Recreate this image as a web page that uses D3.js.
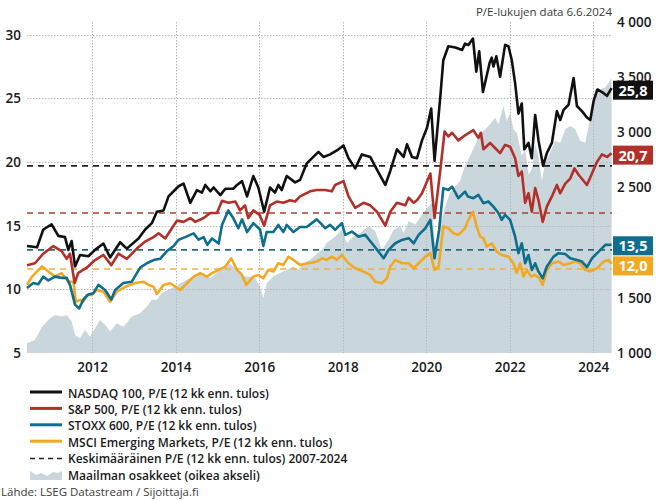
<!DOCTYPE html>
<html>
<head>
<meta charset="utf-8">
<script src="https://cdn.jsdelivr.net/npm/d3@7"></script>
<style>
  html, body { margin: 0; padding: 0; background: #fff; }
  svg { display: block; }
  text { font-family: "Open Sans", "Noto Sans", sans-serif; }
</style>
</head>
<body>
<svg id="chart" width="658" height="500"></svg>
<script>
// ---------- DATA ----------
const nasdaq = [[2010.44,13.4],[2010.68,13.3],[2010.83,14.7],[2011.03,15.1],[2011.19,14.2],[2011.35,14.1],[2011.43,13.1],[2011.51,13.8],[2011.59,11.8],[2011.71,12.7],[2011.91,12.6],[2012.07,13.1],[2012.27,13.6],[2012.43,12.5],[2012.67,13.7],[2012.83,13.2],[2013.11,14.0],[2013.27,14.7],[2013.43,15.2],[2013.55,16.1],[2013.71,16.2],[2013.83,17.3],[2014.07,18.1],[2014.19,18.3],[2014.35,16.8],[2014.51,17.8],[2014.63,17.6],[2014.71,18.2],[2014.83,17.7],[2014.91,18.0],[2015.07,17.4],[2015.19,17.9],[2015.38,17.9],[2015.47,18.2],[2015.59,18.5],[2015.71,17.3],[2015.86,18.9],[2015.98,18.0],[2016.12,16.1],[2016.26,18.0],[2016.38,17.6],[2016.46,18.2],[2016.54,17.8],[2016.66,18.9],[2016.86,18.4],[2016.98,18.6],[2017.14,19.9],[2017.42,20.8],[2017.54,20.4],[2017.70,20.6],[2017.90,21.0],[2018.02,21.3],[2018.14,20.3],[2018.30,19.5],[2018.46,20.6],[2018.66,20.4],[2018.82,19.4],[2019.02,18.2],[2019.14,19.3],[2019.30,21.0],[2019.46,20.4],[2019.54,21.4],[2019.66,20.4],[2019.78,20.3],[2019.90,21.7],[2020.02,22.7],[2020.12,24.2],[2020.20,20.1],[2020.34,25.2],[2020.41,28.0],[2020.53,29.1],[2020.70,29.0],[2020.86,28.8],[2020.93,29.3],[2021.01,29.2],[2021.12,29.7],[2021.20,27.1],[2021.27,28.7],[2021.36,25.5],[2021.52,27.8],[2021.57,28.2],[2021.61,27.5],[2021.68,28.3],[2021.77,26.7],[2021.89,29.2],[2021.97,29.1],[2022.05,28.0],[2022.13,26.2],[2022.21,23.8],[2022.29,24.6],[2022.35,21.0],[2022.45,21.5],[2022.53,20.3],[2022.61,23.7],[2022.69,21.7],[2022.80,19.7],[2022.89,20.7],[2023.01,21.5],[2023.13,24.0],[2023.21,23.3],[2023.29,24.1],[2023.41,24.5],[2023.53,26.6],[2023.61,24.4],[2023.73,24.0],[2023.85,23.5],[2023.93,23.3],[2024.01,24.8],[2024.10,25.7],[2024.21,25.5],[2024.33,25.2],[2024.44,25.8]];

const sp500 = [[2010.44,11.9],[2010.63,12.05],[2010.83,12.8],[2011.07,13.4],[2011.27,13.0],[2011.39,12.4],[2011.47,12.8],[2011.58,10.5],[2011.67,11.3],[2011.87,11.7],[2012.07,12.3],[2012.27,12.7],[2012.46,11.9],[2012.63,12.8],[2012.83,12.4],[2013.07,13.2],[2013.27,13.75],[2013.47,14.1],[2013.59,14.4],[2013.75,14.0],[2013.91,14.8],[2014.03,15.4],[2014.19,15.3],[2014.35,15.6],[2014.47,15.3],[2014.67,15.6],[2014.83,16.0],[2014.99,16.0],[2015.11,16.95],[2015.26,16.8],[2015.43,16.9],[2015.54,16.2],[2015.66,16.6],[2015.74,15.6],[2015.86,16.2],[2016.01,15.85],[2016.12,15.0],[2016.26,16.6],[2016.42,16.9],[2016.58,16.8],[2016.74,17.0],[2016.86,16.9],[2016.98,17.3],[2017.22,17.7],[2017.38,17.8],[2017.58,17.8],[2017.74,17.7],[2017.82,18.2],[2018.02,18.5],[2018.14,17.3],[2018.30,16.4],[2018.50,16.8],[2018.66,16.6],[2018.82,16.1],[2019.02,15.0],[2019.14,16.1],[2019.30,16.8],[2019.50,16.6],[2019.58,17.2],[2019.70,16.8],[2019.78,17.0],[2019.90,17.55],[2020.10,19.1],[2020.20,15.6],[2020.34,19.4],[2020.44,22.4],[2020.53,22.0],[2020.62,22.3],[2020.77,21.7],[2020.93,22.1],[2021.13,22.5],[2021.25,21.9],[2021.31,22.3],[2021.37,21.0],[2021.53,21.5],[2021.65,21.1],[2021.77,20.7],[2021.89,21.35],[2022.01,21.2],[2022.13,20.3],[2022.21,18.9],[2022.29,19.25],[2022.37,16.8],[2022.45,17.55],[2022.53,16.1],[2022.61,17.95],[2022.69,17.0],[2022.79,15.3],[2022.89,16.5],[2023.01,17.3],[2023.13,18.2],[2023.21,17.55],[2023.33,18.3],[2023.45,18.7],[2023.55,19.5],[2023.65,19.0],[2023.85,18.2],[2023.97,19.1],[2024.09,20.0],[2024.21,20.6],[2024.33,20.4],[2024.44,20.7]];

const stoxx600 = [[2010.44,10.1],[2010.59,10.5],[2010.71,10.4],[2010.83,11.0],[2010.95,10.7],[2011.11,11.0],[2011.27,10.9],[2011.39,10.9],[2011.47,10.35],[2011.59,8.8],[2011.69,8.5],[2011.79,9.2],[2011.91,9.6],[2012.03,9.7],[2012.15,10.35],[2012.31,9.95],[2012.46,9.2],[2012.55,9.95],[2012.75,10.5],[2012.95,10.6],[2013.15,11.7],[2013.31,12.05],[2013.47,12.3],[2013.63,12.4],[2013.79,13.0],[2013.95,13.4],[2014.07,13.9],[2014.23,14.1],[2014.43,14.4],[2014.55,13.9],[2014.67,14.1],[2014.76,13.5],[2014.87,14.0],[2015.03,13.6],[2015.11,15.06],[2015.26,16.2],[2015.38,15.6],[2015.50,14.8],[2015.59,15.5],[2015.71,14.5],[2015.86,15.2],[2016.02,14.7],[2016.10,13.4],[2016.18,14.5],[2016.34,14.5],[2016.46,15.06],[2016.58,14.5],[2016.66,15.06],[2016.82,14.5],[2016.98,14.9],[2017.14,14.9],[2017.26,15.2],[2017.38,15.5],[2017.50,15.1],[2017.58,14.8],[2017.70,15.06],[2017.82,14.67],[2017.98,15.2],[2018.06,14.28],[2018.22,14.54],[2018.38,14.14],[2018.54,14.28],[2018.70,13.62],[2018.86,12.96],[2018.98,12.44],[2019.10,13.1],[2019.26,13.62],[2019.42,13.88],[2019.58,14.02],[2019.70,13.62],[2019.82,14.28],[2019.98,14.8],[2020.10,15.46],[2020.20,12.44],[2020.31,14.67],[2020.41,17.95],[2020.53,17.81],[2020.62,18.07],[2020.77,17.16],[2020.93,17.68],[2021.00,17.29],[2021.13,17.16],[2021.25,17.42],[2021.37,16.77],[2021.49,16.9],[2021.61,16.5],[2021.73,16.0],[2021.81,15.46],[2021.89,15.85],[2022.01,15.46],[2022.13,14.14],[2022.21,12.84],[2022.29,13.62],[2022.37,12.05],[2022.45,12.7],[2022.53,11.53],[2022.61,12.05],[2022.69,11.39],[2022.79,10.87],[2022.89,11.79],[2023.05,12.57],[2023.17,12.84],[2023.33,12.78],[2023.45,12.44],[2023.61,12.31],[2023.73,12.18],[2023.85,11.74],[2023.97,12.44],[2024.13,12.96],[2024.29,13.49],[2024.44,13.5]];

const msciEM = [[2010.44,10.35],[2010.56,11.0],[2010.80,11.8],[2010.95,11.4],[2011.11,11.0],[2011.27,11.27],[2011.43,10.6],[2011.55,10.6],[2011.61,9.03],[2011.71,9.17],[2011.79,9.03],[2011.87,9.56],[2011.99,9.56],[2012.11,9.95],[2012.27,9.82],[2012.43,9.03],[2012.59,9.82],[2012.79,10.2],[2013.03,10.5],[2013.23,10.6],[2013.35,10.35],[2013.47,10.2],[2013.55,9.64],[2013.71,10.35],[2013.87,10.48],[2014.11,9.95],[2014.27,10.48],[2014.43,11.0],[2014.59,11.27],[2014.75,11.0],[2014.87,11.27],[2015.03,11.53],[2015.19,11.79],[2015.33,12.44],[2015.47,11.53],[2015.59,11.13],[2015.69,10.35],[2015.86,11.0],[2015.98,11.13],[2016.10,10.87],[2016.22,11.53],[2016.34,11.39],[2016.46,12.05],[2016.58,11.92],[2016.70,12.57],[2016.82,12.31],[2016.98,11.92],[2017.18,12.05],[2017.38,12.18],[2017.50,12.44],[2017.62,12.31],[2017.74,12.57],[2017.86,12.31],[2017.98,12.7],[2018.14,12.05],[2018.30,11.66],[2018.50,11.39],[2018.66,11.13],[2018.78,10.6],[2018.94,10.48],[2019.06,10.87],[2019.14,11.79],[2019.26,12.31],[2019.42,12.05],[2019.58,12.05],[2019.70,11.66],[2019.82,12.05],[2019.98,12.57],[2020.10,12.84],[2020.20,11.53],[2020.30,11.79],[2020.41,14.93],[2020.53,14.8],[2020.65,14.41],[2020.77,14.28],[2020.93,14.8],[2020.99,15.32],[2021.12,16.1],[2021.21,14.93],[2021.29,14.14],[2021.37,14.02],[2021.45,13.36],[2021.57,13.62],[2021.69,12.96],[2021.81,12.7],[2021.97,12.57],[2022.09,12.05],[2022.17,11.27],[2022.25,12.05],[2022.33,11.0],[2022.41,11.53],[2022.51,11.0],[2022.61,11.13],[2022.71,10.87],[2022.79,10.35],[2022.89,11.53],[2023.01,12.05],[2023.17,12.18],[2023.29,11.92],[2023.45,12.05],[2023.57,12.18],[2023.69,12.05],[2023.81,11.53],[2023.93,11.39],[2024.09,11.66],[2024.25,12.18],[2024.37,12.31],[2024.44,12.0]];

const worldShares = [[2010.44,1088],[2010.63,1118],[2010.80,1239],[2010.95,1300],[2011.11,1345],[2011.27,1330],[2011.39,1345],[2011.51,1285],[2011.59,1164],[2011.71,1133],[2011.83,1209],[2011.95,1148],[2012.07,1224],[2012.19,1300],[2012.31,1255],[2012.43,1194],[2012.59,1270],[2012.75,1239],[2012.95,1330],[2013.15,1361],[2013.31,1421],[2013.43,1482],[2013.55,1482],[2013.67,1543],[2013.83,1573],[2014.07,1618],[2014.11,1633],[2014.35,1679],[2014.59,1724],[2014.83,1679],[2015.07,1755],[2015.26,1815],[2015.43,1770],[2015.59,1694],[2015.74,1694],[2015.90,1679],[2016.02,1603],[2016.10,1497],[2016.18,1633],[2016.34,1694],[2016.50,1724],[2016.66,1755],[2016.82,1785],[2016.94,1755],[2017.06,1815],[2017.22,1845],[2017.38,1900],[2017.54,1950],[2017.62,2000],[2017.82,2057],[2017.98,2118],[2018.10,1997],[2018.26,2057],[2018.42,2088],[2018.62,2148],[2018.78,2103],[2018.94,1936],[2019.10,2027],[2019.22,2118],[2019.38,2148],[2019.46,2088],[2019.58,2194],[2019.74,2164],[2019.90,2255],[2020.06,2330],[2020.14,2361],[2020.22,1936],[2020.34,2179],[2020.46,2330],[2020.57,2452],[2020.70,2512],[2020.81,2560],[2020.93,2694],[2021.05,2785],[2021.29,2980],[2021.53,3073],[2021.65,3133],[2021.73,3073],[2021.85,3239],[2021.93,3103],[2022.01,3179],[2022.09,3027],[2022.17,2997],[2022.29,2785],[2022.37,2845],[2022.45,2618],[2022.53,2664],[2022.61,2891],[2022.69,2785],[2022.77,2557],[2022.85,2724],[2022.97,2815],[2023.09,2921],[2023.21,2906],[2023.33,3027],[2023.45,3057],[2023.57,3027],[2023.69,2921],[2023.81,2906],[2023.93,3133],[2024.05,3315],[2024.17,3391],[2024.29,3406],[2024.44,3490]];

// long-run averages 2007-2024
const averageNames = ["NASDAQ 100", "S&P 500", "STOXX 600", "MSCI Emerging Markets"];
const averageValues = [19.7, 16.0, 13.1, 11.6];

const leftTicks = [5, 10, 15, 20, 25, 30];
const rightTicks = [1000, 1500, 2000, 2500, 3000, 3500, 4000];
const yearTicks = [2012, 2014, 2016, 2018, 2020, 2022, 2024];

const legendLabels = [
  "NASDAQ 100, P/E (12 kk enn. tulos)",
  "S&P 500, P/E (12 kk enn. tulos)",
  "STOXX 600, P/E (12 kk enn. tulos)",
  "MSCI Emerging Markets, P/E (12 kk enn. tulos)",
  "Keskimääräinen P/E (12 kk enn. tulos) 2007-2024",
  "Maailman osakkeet (oikea akseli)"
];
const titleText = "P/E-lukujen data 6.6.2024";
const sourceText = "Lähde: LSEG Datastream / Sijoittaja.fi";

// ---------- STYLE ----------
const colors = { nasdaq: "#111111", sp: "#b2302a", stoxx: "#0f6e8e", em: "#f2a922", area: "#c9d6dc" };
const avgColors = ["#222222", "#a8403a", "#2c6a7a", "#f0b23c"];
const seriesList = [
  { data: msciEM, color: colors.em },
  { data: stoxx600, color: colors.stoxx },
  { data: sp500, color: colors.sp },
  { data: nasdaq, color: colors.nasdaq }
];

const svg = d3.select("#chart");
const L = 27, R = 612, T = 22, B = 353;

const x = d3.scaleLinear().domain([2010.44, 2024.45]).range([L, R]);
const yL = d3.scaleLinear().domain([5, 31]).range([B, T]);
const yR = d3.scaleLinear().domain([1000, 4000]).range([B, T]);

// area (world shares, right axis)
svg.append("path")
  .datum(worldShares)
  .attr("fill", colors.area)
  .attr("d", d3.area().x(d => x(d[0])).y0(B).y1(d => yR(d[1])));

// gridlines
const grid = svg.append("g").attr("stroke", "#b8b8b8").attr("stroke-width", 1).attr("stroke-dasharray", "1.5,1.5");
grid.selectAll("line.v").data(yearTicks).join("line")
  .attr("x1", d => Math.round(x(d)) + 0.5).attr("x2", d => Math.round(x(d)) + 0.5)
  .attr("y1", T).attr("y2", B);
grid.selectAll("line.h").data(leftTicks.filter(d => d > 5)).join("line")
  .attr("x1", L).attr("x2", R)
  .attr("y1", d => Math.round(yL(d)) + 0.5).attr("y2", d => Math.round(yL(d)) + 0.5);

// average dashed lines
svg.append("g").selectAll("line").data(averageValues).join("line")
  .attr("x1", L).attr("x2", R)
  .attr("y1", d => yL(d)).attr("y2", d => yL(d))
  .attr("stroke", (d, i) => avgColors[i])
  .attr("stroke-width", 1.6)
  .attr("stroke-dasharray", "6,5");

// series lines
const line = d3.line().x(d => x(d[0])).y(d => yL(d[1]));
svg.append("g").selectAll("path").data(seriesList).join("path")
  .attr("fill", "none")
  .attr("stroke", d => d.color)
  .attr("stroke-width", 2.6)
  .attr("stroke-linejoin", "round")
  .attr("d", d => line(d.data));

// axes
const fmtThousands = d => d3.format(",")(d).replace(/,/g, "\u00a0");
const axL = svg.append("g").attr("transform", `translate(${L},0)`)
  .call(d3.axisLeft(yL).tickValues(leftTicks).tickSize(0).tickPadding(6));
const axR = svg.append("g").attr("transform", `translate(${R},0)`)
  .call(d3.axisRight(yR).tickValues(rightTicks).tickSize(0).tickPadding(5).tickFormat(fmtThousands));
const axB = svg.append("g").attr("transform", `translate(0,${B})`)
  .call(d3.axisBottom(x).tickValues(yearTicks).tickSize(0).tickPadding(9).tickFormat(d3.format("d")));
[axL, axR, axB].forEach(a => {
  a.select(".domain").remove();
  a.selectAll("text")
    .attr("font-family", "'Open Sans', sans-serif")
    .attr("font-weight", 600)
    .attr("font-size", 13.5)
    .attr("fill", "#1a1a1a");
});

// end value boxes
const endItems = [
  { v: nasdaq[nasdaq.length - 1][1], color: colors.nasdaq, dy: 2 },
  { v: sp500[sp500.length - 1][1], color: colors.sp, dy: 2 },
  { v: stoxx600[stoxx600.length - 1][1], color: colors.stoxx, dy: 1 },
  { v: msciEM[msciEM.length - 1][1], color: colors.em, dy: 2 }
];
const boxes = svg.append("g").selectAll("g").data(endItems).join("g")
  .attr("transform", d => `translate(${R + 1},${yL(d.v) + d.dy})`);
boxes.append("rect").attr("x", 0).attr("y", -9.5).attr("width", 40).attr("height", 19)
  .attr("fill", d => d.color);
boxes.append("text").attr("x", 20).attr("y", 0)
  .attr("text-anchor", "middle").attr("dominant-baseline", "central")
  .attr("font-family", "'Open Sans', sans-serif").attr("font-weight", 700).attr("font-size", 14.5)
  .attr("fill", "#fff")
  .text(d => d3.format(".1f")(d.v).replace(".", ","));

// title & source
svg.append("text").attr("x", R).attr("y", 16).attr("text-anchor", "end")
  .attr("font-family", "'Liberation Sans', Arial, sans-serif").attr("font-size", 11.5)
  .attr("fill", "#3a3a3a").text(titleText);
svg.append("text").attr("x", 1).attr("y", 496)
  .attr("font-family", "'Liberation Sans', Arial, sans-serif").attr("font-size", 11.5)
  .attr("fill", "#3a3a3a").text(sourceText);

// legend
const legY0 = 393, legStep = 16.4;
const leg = svg.append("g");
const legendKinds = [
  { type: "line", color: colors.nasdaq },
  { type: "line", color: colors.sp },
  { type: "line", color: colors.stoxx },
  { type: "line", color: colors.em },
  { type: "dash", color: "#222" },
  { type: "area", color: colors.area }
];
legendKinds.forEach((k, i) => {
  const cy = legY0 + i * legStep;
  if (k.type === "line") {
    leg.append("line").attr("x1", 30).attr("x2", 62).attr("y1", cy - 1).attr("y2", cy - 1)
      .attr("stroke", k.color).attr("stroke-width", 3);
  } else if (k.type === "dash") {
    leg.append("line").attr("x1", 30).attr("x2", 62).attr("y1", cy).attr("y2", cy)
      .attr("stroke", k.color).attr("stroke-width", 1.5).attr("stroke-dasharray", "5,4");
  } else {
    leg.append("path")
      .attr("d", `M30,${cy + 5} L30,${cy - 4} L36,${cy} L41,${cy - 2} L47,${cy + 1} L53,${cy - 3} L58,${cy - 2} L62,${cy - 4} L62,${cy + 5} Z`)
      .attr("fill", k.color);
  }
  leg.append("text").attr("x", 68).attr("y", cy)
    .attr("dominant-baseline", "central")
    .attr("font-family", "'Open Sans', sans-serif").attr("font-weight", 600).attr("font-size", 12)
    .attr("fill", "#1a1a1a")
    .text(legendLabels[i]);
});
</script>
</body>
</html>
